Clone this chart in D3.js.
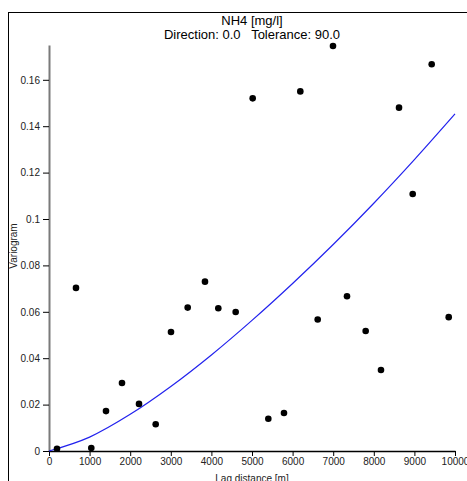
<!DOCTYPE html>
<html>
<head>
<meta charset="utf-8">
<script src="https://cdn.jsdelivr.net/npm/d3@7"></script>
<style>
  html, body { margin: 0; padding: 0; background: #fff; overflow: hidden; }
  svg { display: block; font-family: "Liberation Sans", Arial, sans-serif; }
</style>
</head>
<body>
<svg id="chart"></svg>
<script>
// ─── Data ────────────────────────────────────────────────────────────────────
const lagDistance = [197, 665, 1042, 1404, 1798, 2217, 2628, 3005, 3416, 3842,
  4170, 4598, 5017, 5402, 5788, 6190, 6618, 6995, 7340, 7800, 8177, 8621, 8958, 9426, 9845];
const variogram = [0.0010, 0.0703, 0.0013, 0.0172, 0.0293, 0.0203, 0.0115, 0.0513, 0.0618, 0.0730,
  0.0615, 0.0599, 0.1520, 0.0139, 0.0164, 0.1550, 0.0567, 0.1746, 0.0667, 0.0517, 0.0349, 0.1480, 0.1108, 0.1667, 0.0577];

// Model curve
const modelLag = [0, 1000, 2000, 3000, 4000, 5000, 6000, 7000, 8000, 9000, 10000];
const modelValue = [0, 0.0060, 0.0158, 0.0278, 0.0414, 0.0563, 0.0722, 0.0890, 0.1068, 0.1256, 0.1453];

const xTicks = [0, 1000, 2000, 3000, 4000, 5000, 6000, 7000, 8000, 9000, 10000];
const yTicks = [0, 0.02, 0.04, 0.06, 0.08, 0.1, 0.12, 0.14, 0.16];

const titleLines = ["NH4 [mg/l]", "Direction: 0.0   Tolerance: 90.0"];
const xLabel = "Lag distance [m]";
const yLabel = "Variogram";

// ─── Layout ──────────────────────────────────────────────────────────────────
const W = 467, H = 481;
const plot = { left: 49, right: 455, top: 45, bottom: 451 };

const svg = d3.select("#chart").attr("width", W).attr("height", H);

const x = d3.scaleLinear().domain([0, 10000]).range([plot.left, plot.right]);
const y = d3.scaleLinear().domain([0, 0.175]).range([plot.bottom, plot.top]);

// outer frame (runs off the right and bottom edges)
svg.append("rect")
  .attr("x", 8.5).attr("y", 12.5)
  .attr("width", W).attr("height", H)
  .attr("fill", "none").attr("stroke", "#000").attr("stroke-width", 1);

// ─── Axes ────────────────────────────────────────────────────────────────────
const fmtY = d => d === 0 ? "0" : String(+d.toFixed(2));

const yAxis = svg.append("g")
  .attr("transform", `translate(${plot.left},0)`)
  .call(d3.axisLeft(y).tickValues(yTicks).tickFormat(fmtY).tickSize(6).tickPadding(3).tickSizeOuter(0));
yAxis.select(".domain").attr("stroke", "#7a7a7a").attr("stroke-width", 2);
yAxis.selectAll(".tick line").attr("stroke", "#000");
yAxis.selectAll("text").attr("fill", "#222").style("font-size", "10px")
  .style("font-family", "'Liberation Sans', Arial, sans-serif");

const xAxis = svg.append("g")
  .attr("transform", `translate(0,${plot.bottom})`)
  .call(d3.axisBottom(x).tickValues(xTicks).tickFormat(d3.format("d")).tickSize(5).tickPadding(2).tickSizeOuter(0));
xAxis.select(".domain").attr("stroke", "#000").attr("stroke-width", 1.5);
xAxis.selectAll(".tick line").attr("stroke", "#000");
xAxis.selectAll("text").attr("fill", "#222").style("font-size", "10px")
  .style("font-family", "'Liberation Sans', Arial, sans-serif");

// ─── Labels ──────────────────────────────────────────────────────────────────
const cx = (plot.left + plot.right) / 2;
svg.selectAll("text.title")
  .data(titleLines)
  .join("text")
  .attr("class", "title")
  .attr("x", cx)
  .attr("y", (d, i) => 25 + i * 13.5)
  .attr("text-anchor", "middle")
  .attr("font-size", 13)
  .attr("fill", "#000")
  .style("white-space", "pre")
  .text(d => d);

svg.append("text")
  .attr("x", cx).attr("y", 482)
  .attr("text-anchor", "middle")
  .attr("font-size", 10).attr("fill", "#222")
  .text(xLabel);

svg.append("text")
  .attr("transform", "translate(17,246) rotate(-90)")
  .attr("text-anchor", "middle")
  .attr("font-size", 10).attr("fill", "#222")
  .text(yLabel);

// ─── Model curve ─────────────────────────────────────────────────────────────
const model = modelLag.map((d, i) => ({ x: d, y: modelValue[i] }));
svg.append("path")
  .datum(model)
  .attr("fill", "none")
  .attr("stroke", "#2222ee")
  .attr("stroke-width", 1.2)
  .attr("d", d3.line().x(d => x(d.x)).y(d => y(d.y)).curve(d3.curveMonotoneX));

// ─── Experimental points ─────────────────────────────────────────────────────
svg.append("g")
  .selectAll("circle")
  .data(lagDistance.map((d, i) => ({ x: d, y: variogram[i] })))
  .join("circle")
  .attr("cx", d => x(d.x))
  .attr("cy", d => y(d.y))
  .attr("r", 3.3)
  .attr("fill", "#000");
</script>
</body>
</html>
